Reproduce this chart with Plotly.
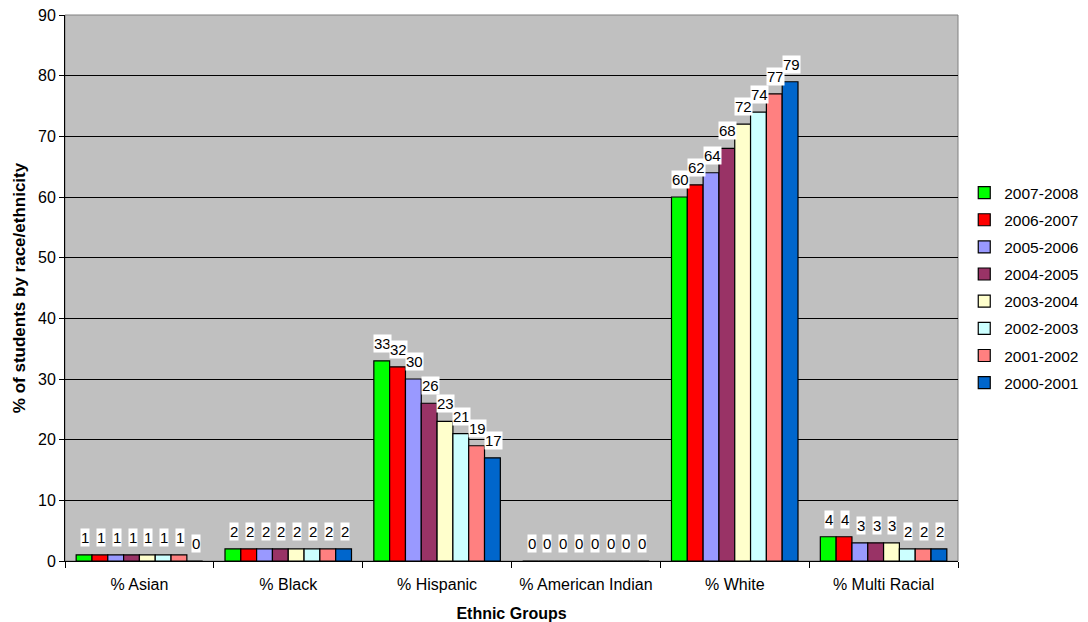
import plotly.graph_objects as go

categories = ["% Asian", "% Black", "% Hispanic", "% American Indian", "% White", "% Multi Racial"]
years = ["2007-2008", "2006-2007", "2005-2006", "2004-2005", "2003-2004", "2002-2003", "2001-2002", "2000-2001"]
colors = ["#00FF00", "#FF0000", "#9999FF", "#993366", "#FFFFCC", "#CCFFFF", "#FF8080", "#0066CC"]

v_2007_2008 = [1, 2, 33, 0, 60, 4]
v_2006_2007 = [1, 2, 32, 0, 62, 4]
v_2005_2006 = [1, 2, 30, 0, 64, 3]
v_2004_2005 = [1, 2, 26, 0, 68, 3]
v_2003_2004 = [1, 2, 23, 0, 72, 3]
v_2002_2003 = [1, 2, 21, 0, 74, 2]
v_2001_2002 = [1, 2, 19, 0, 77, 2]
v_2000_2001 = [0, 2, 17, 0, 79, 2]
series = [v_2007_2008, v_2006_2007, v_2005_2006, v_2004_2005,
          v_2003_2004, v_2002_2003, v_2001_2002, v_2000_2001]

W, H = 1088, 622
ml, mr, mt, mb = 65, 130, 15, 61
bargap = 0.15
font = "Liberation Sans, Arial, sans-serif"

fig = go.Figure()
for i, (name, vals, col) in enumerate(zip(years, series, colors)):
    fig.add_trace(go.Bar(
        x=categories, y=vals, name=name, legendgroup=name,
        marker=dict(color=col, line=dict(color="black", width=1.2)),
    ))

plot_w = W - ml - mr
cat_w = plot_w / len(categories)
bar_w = cat_w * (1 - bargap) / len(years)
annotations = []
for i, vals in enumerate(series):
    off = (i - (len(years) - 1) / 2) * bar_w
    for c, v in zip(categories, vals):
        annotations.append(dict(
            x=c, y=v, xref="x", yref="y", text=str(v), showarrow=False,
            xshift=off + 1, yshift=8, yanchor="bottom", xanchor="center",
            bgcolor="white", borderpad=0,
            font=dict(family=font, size=15, color="black"),
        ))

fig.add_shape(type="rect", xref="paper", yref="paper", x0=0, x1=1, y0=0, y1=1,
              line=dict(color="#808080", width=1), layer="below")

fig.update_layout(
    width=W, height=H,
    margin=dict(l=ml, r=mr, t=mt, b=mb, autoexpand=False),
    paper_bgcolor="white", plot_bgcolor="#C0C0C0",
    barmode="group", bargap=bargap, bargroupgap=0,
    font=dict(family=font, size=16, color="black"),
    showlegend=True,
    legend=dict(x=1.007, y=0.5, xanchor="left", yanchor="middle",
                font=dict(family=font, size=15.5), tracegroupgap=4,
                itemwidth=30, bgcolor="rgba(0,0,0,0)"),
    annotations=annotations,
    xaxis=dict(
        title=dict(text="<b>Ethnic Groups</b>", font=dict(size=16), standoff=16),
        tickson="boundaries", ticks="outside", ticklen=6, tickcolor="black",
        ticklabelstandoff=9, automargin=False,
        showline=True, linecolor="black", linewidth=1,
        tickfont=dict(size=16),
    ),
    yaxis=dict(
        title=dict(text="<b>% of students by race/ethnicity</b>", font=dict(size=17), standoff=8),
        range=[0, 90], dtick=10, ticks="outside", ticklen=5, tickcolor="black",
        showgrid=True, gridcolor="black", gridwidth=1, automargin=False,
        showline=True, linecolor="black", linewidth=1,
        tickfont=dict(size=16), zeroline=False,
    ),
)

fig.write_html("out.html")
